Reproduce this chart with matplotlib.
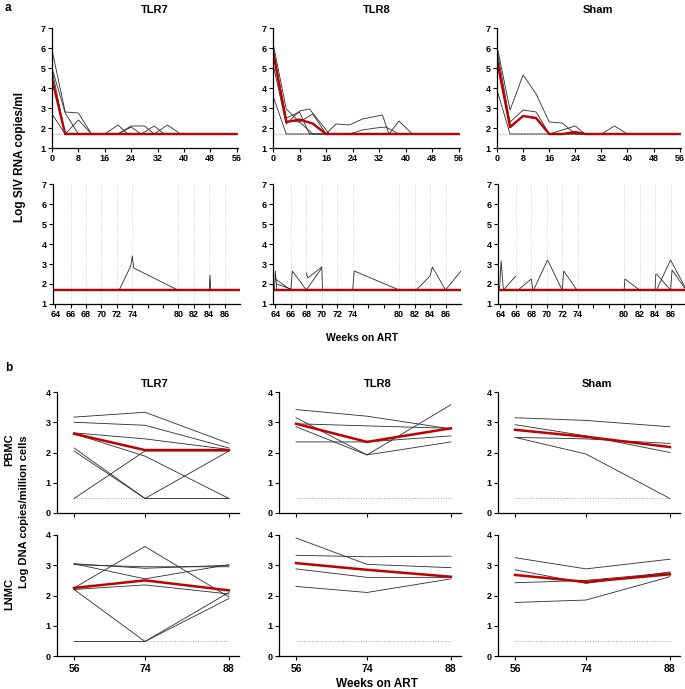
import matplotlib
matplotlib.use('Agg')
import matplotlib.pyplot as plt

plt.rcParams['font.family'] = ['Liberation Sans', 'DejaVu Sans']
plt.rcParams['font.weight'] = 'bold'

groups = ['TLR7', 'TLR8', 'Sham']

# --- panel a, weeks 0-56: one (weeks, log copies) pair per animal
rna_early = {
    'TLR7': [
        ([0, 4, 8, 12, 31, 35, 39, 56], [5.9, 2.8, 2.75, 1.7, 1.7, 2.15, 1.7, 1.7]),
        ([0, 4, 8, 16, 20, 23, 56], [5.0, 2.75, 1.7, 1.7, 2.15, 1.7, 1.7]),
        ([0, 4, 8, 12, 20, 24, 28, 31, 56], [4.9, 1.7, 2.4, 1.7, 1.7, 2.1, 2.1, 1.7, 1.7]),
        ([0, 4, 20, 24, 27, 31, 34, 56], [2.7, 1.7, 1.7, 2.05, 1.7, 2.1, 1.7, 1.7]),
    ],
    'TLR8': [
        ([0, 4, 8, 12, 16, 19, 23, 27, 33, 35, 56], [6.25, 2.95, 2.3, 1.7, 1.7, 2.2, 2.15, 2.45, 2.65, 1.7, 1.7]),
        ([0, 4, 8, 11, 17, 56], [5.2, 2.2, 2.85, 2.95, 1.7, 1.7]),
        ([0, 4, 23, 27, 31, 34, 38, 56], [3.6, 1.7, 1.7, 1.9, 2.0, 2.05, 1.7, 1.7]),
        ([0, 4, 8, 11, 56], [5.9, 2.5, 2.8, 1.7, 1.7]),
        ([0, 4, 8, 12, 16, 35, 38, 42, 56], [6.0, 2.35, 2.3, 2.7, 1.7, 1.7, 2.35, 1.7, 1.7]),
    ],
    'Sham': [
        ([0, 4, 8, 12, 16, 20, 24, 56], [6.1, 2.9, 4.65, 3.7, 2.3, 2.25, 1.7, 1.7]),
        ([0, 4, 8, 12, 16, 20, 24, 27, 56], [5.9, 2.3, 2.9, 2.8, 1.7, 1.9, 2.1, 1.7, 1.7]),
        ([0, 4, 56], [3.9, 1.7, 1.7]),
        ([0, 4, 8, 12, 16, 32, 36, 40, 56], [5.6, 2.0, 2.6, 2.45, 1.7, 1.7, 2.1, 1.7, 1.7]),
    ],
}
rna_early_median = {
    'TLR7': ([0, 4, 56], [4.45, 1.7, 1.7]),
    'TLR8': ([0, 4, 8, 12, 16, 56], [5.8, 2.3, 2.42, 2.22, 1.7, 1.7]),
    'Sham': ([0, 4, 8, 12, 16, 20, 24, 27, 56], [5.4, 2.05, 2.6, 2.5, 1.7, 1.7, 1.8, 1.7, 1.7]),
}

# --- panel a, weeks 64-88
rna_late = {
    'TLR7': [
        ([72.3, 73.8, 74.0, 74.2, 79.9], [1.7, 2.9, 3.4, 2.8, 1.7]),
        ([84.0, 84.1, 84.2], [1.7, 2.45, 1.7]),
    ],
    'TLR8': [
        ([63.9, 64.0, 64.2], [1.7, 2.65, 1.7]),
        ([64.0, 66.0], [2.25, 1.7]),
        ([64.2, 66.0], [2.0, 1.75]),
        ([66.0, 66.2, 68.0], [1.7, 2.65, 1.7]),
        ([68.0, 68.2, 70.0, 70.1], [2.55, 2.3, 2.85, 1.7]),
        ([68.0, 70.0], [1.7, 2.8]),
        ([74.0, 74.2, 80.0], [1.7, 2.65, 1.7]),
        ([82.2, 84.0, 84.3, 86.0, 88.0], [1.7, 2.4, 2.85, 1.7, 2.65]),
    ],
    'Sham': [
        ([63.9, 64.1, 64.4], [1.7, 3.15, 1.7]),
        ([64.4, 66.0], [1.7, 2.4]),
        ([66.3, 68.0, 68.2], [1.7, 2.25, 1.7]),
        ([68.3, 70.1, 72.0], [1.7, 3.2, 1.7]),
        ([72.0, 72.2, 73.9], [1.7, 2.65, 1.7]),
        ([80.0, 80.1, 82.0], [1.7, 2.25, 1.7]),
        ([84.0, 84.1, 84.3, 86.0], [1.7, 2.5, 2.45, 1.7]),
        ([84.2, 86.0, 88.0], [1.7, 3.2, 1.75]),
        ([86.0, 86.2, 88.0], [1.7, 2.7, 1.7]),
    ],
}
late_ticks = [64, 66, 68, 70, 72, 74, 76, 78, 80, 82, 84, 86]
late_labels = ['64', '66', '68', '70', '72', '74', '', '', '80', '82', '84', '86']
late_grid = [66, 68, 70, 72, 74, 80, 82, 84, 86]
rna_lod = 1.7

# --- panel b, proviral DNA at weeks 56, 74, 88
dna_weeks = ['56', '74', '88']
dna_pos = [0, 0.916, 2]
dna_lod = 0.48
pbmc = {
    'TLR7': [[3.17, 3.33, 2.3], [3.0, 2.9, 2.15], [2.65, 2.45, 2.1], [2.62, 1.88, 0.48],
             [2.15, 0.48, 2.05], [2.05, 0.48, 0.48], [0.48, 2.05, 2.05]],
    'TLR8': [[3.42, 3.2, 2.78], [3.15, 1.92, 3.58], [2.95, 2.88, 2.8], [2.85, 1.92, 2.35],
             [2.35, 2.35, 2.55]],
    'Sham': [[3.15, 3.06, 2.85], [2.92, 2.55, 2.0], [2.5, 2.45, 2.3], [2.5, 1.95, 0.48]],
}
pbmc_median = {'TLR7': [2.62, 2.08, 2.08], 'TLR8': [2.95, 2.35, 2.8], 'Sham': [2.75, 2.52, 2.18]}
lnmc = {
    'TLR7': [[3.05, 2.9, 3.0], [3.02, 2.95, 2.95], [3.05, 2.55, 3.02], [2.25, 3.62, 1.95],
             [2.2, 2.35, 2.05], [2.2, 0.48, 2.1], [0.48, 0.48, 1.9]],
    'TLR8': [[3.9, 3.03, 2.92], [3.33, 3.28, 3.3], [2.88, 2.6, 2.6], [2.3, 2.1, 2.55]],
    'Sham': [[3.25, 2.88, 3.2], [2.85, 2.4, 2.78], [2.42, 2.5, 2.75], [1.77, 1.85, 2.62]],
}
lnmc_median = {'TLR7': [2.25, 2.5, 2.17], 'TLR8': [3.07, 2.85, 2.62], 'Sham': [2.68, 2.45, 2.7]}

W, H = 685, 689
fig = plt.figure(figsize=(W / 100, H / 100), dpi=100)

LINE = '#2a2a2a'
RED = '#c00000'
GREY = '#a0a0a0'


def px_axes(left, right, top, bottom):
    return fig.add_axes([left / W, 1 - bottom / H, (right - left) / W, (bottom - top) / H])


def style(ax, size=6.5):
    for s in ['top', 'right']:
        ax.spines[s].set_visible(False)
    for s in ['left', 'bottom']:
        ax.spines[s].set_linewidth(0.9)
    ax.tick_params(direction='out', length=3, width=0.8, labelsize=size, pad=1.5)
    for lab in ax.get_xticklabels() + ax.get_yticklabels():
        lab.set_fontweight('bold')


top_x = {'TLR7': (52, 238), 'TLR8': (273, 460), 'Sham': (497, 681)}
bot_x = {'TLR7': (53, 240), 'TLR8': (273, 461), 'Sham': (498, 686)}
title_x = {'TLR7': 155, 'TLR8': 377, 'Sham': 598}

for g in groups:
    ax = px_axes(top_x[g][0], top_x[g][1], 28, 148)
    ax.plot([0, 56], [rna_lod, rna_lod], color=GREY, lw=0.8, ls=':')
    for wk, val in rna_early[g]:
        ax.plot(wk, val, color=LINE, lw=0.6)
    ax.plot(*rna_early_median[g], color=RED, lw=1.7)
    ax.set_xlim(0, 56.4)
    ax.set_ylim(1, 7)
    ax.set_xticks(range(0, 57, 8))
    ax.set_yticks(range(1, 8))
    style(ax)
    fig.text(title_x[g] / W, 1 - 10 / H, g, ha='center', va='center', fontsize=8, fontweight='bold')

    ax = px_axes(bot_x[g][0], bot_x[g][1], 184, 304)
    for x in late_grid:
        ax.axvline(x, color='#c8c8c8', lw=0.6, ls=':')
    for wk, val in rna_late[g]:
        ax.plot(wk, val, color=LINE, lw=0.6)
    ax.plot([63.7, 88], [rna_lod, rna_lod], color=RED, lw=1.7)
    ax.set_xlim(63.7, 88)
    ax.set_ylim(1, 7)
    ax.set_xticks(late_ticks)
    ax.set_xticklabels(late_labels)
    ax.set_yticks(range(1, 8))
    style(ax)

fig.text(5 / W, 1 - 8 / H, 'a', fontsize=8.5, fontweight='bold', va='center')
fig.text(20 / W, 1 - 157 / H, 'Log SIV RNA copies/ml', rotation=90, ha='center', va='center',
         fontsize=8.5, fontweight='bold')
fig.text(362 / W, 1 - 338 / H, 'Weeks on ART', ha='center', va='center', fontsize=7.5, fontweight='bold')

b_left = {'TLR7': 57, 'TLR8': 279, 'Sham': 498}
bt_x = {'TLR7': 155, 'TLR8': 378, 'Sham': 597}
for g in groups:
    for data, med, top, bottom, lab in [(pbmc, pbmc_median, 392, 513, False),
                                        (lnmc, lnmc_median, 535, 656, True)]:
        ax = px_axes(b_left[g], b_left[g] + 182, top, bottom)
        ax.plot([dna_pos[0], dna_pos[-1]], [dna_lod, dna_lod], color=GREY, lw=0.7, ls=':')
        for val in data[g]:
            ax.plot(dna_pos, val, color=LINE, lw=0.6)
        ax.plot(dna_pos, med[g], color=RED, lw=1.8)
        ax.set_xlim(-0.22, 2.13)
        ax.set_ylim(0, 4)
        ax.set_yticks(range(0, 5))
        ax.set_xticks(dna_pos)
        ax.set_xticklabels(dna_weeks if lab else ['', '', ''])
        style(ax)
        ax.tick_params(axis='x', labelsize=7.5, pad=3)
    fig.text(bt_x[g] / W, 1 - 384 / H, g, ha='center', va='center', fontsize=8, fontweight='bold')

fig.text(5 / W, 1 - 368 / H, 'b', fontsize=8.5, fontweight='bold', va='center')
fig.text(9 / W, 1 - 450 / H, 'PBMC', rotation=90, ha='center', va='center', fontsize=8, fontweight='bold')
fig.text(9 / W, 1 - 594 / H, 'LNMC', rotation=90, ha='center', va='center', fontsize=8, fontweight='bold')
fig.text(24 / W, 1 - 512 / H, 'Log DNA copies/million cells', rotation=90, ha='center', va='center',
         fontsize=8, fontweight='bold')
fig.text(377 / W, 1 - 684 / H, 'Weeks on ART', ha='center', va='center', fontsize=8.5, fontweight='bold')

fig.savefig('out.png', dpi=100)
